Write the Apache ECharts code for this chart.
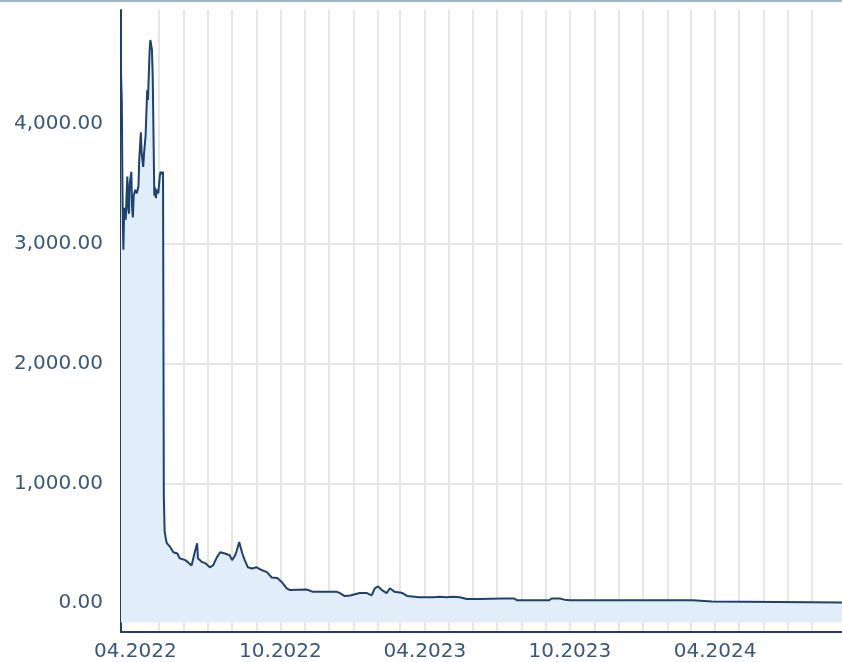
<!DOCTYPE html>
<html>
<head>
<meta charset="utf-8">
<script src="https://cdn.jsdelivr.net/npm/echarts@6/dist/echarts.min.js"></script>
<style>
  html, body { margin: 0; padding: 0; background: #ffffff; }
  #wrap { width: 842px; height: 662px; position: relative; }
  #topline { position: absolute; left: 0; top: 0; width: 842px; height: 2px; background: #9fb4c8; }
  #chart { width: 842px; height: 662px; }
</style>
</head>
<body>
<div id="wrap">
  <div id="chart"></div>
  <div id="topline"></div>
</div>
<script>
// ---- data ----
const dates = [
  '2022-03-14','2022-03-15','2022-03-16','2022-03-17','2022-03-18','2022-03-20','2022-03-21','2022-03-22',
  '2022-03-23','2022-03-24','2022-03-25','2022-03-27','2022-03-28','2022-03-29','2022-03-30','2022-04-01',
  '2022-04-03','2022-04-05','2022-04-06','2022-04-08','2022-04-09','2022-04-11','2022-04-12','2022-04-14',
  '2022-04-16','2022-04-17','2022-04-19','2022-04-20','2022-04-21','2022-04-22','2022-04-23','2022-04-25',
  '2022-04-26','2022-04-27','2022-04-28','2022-04-30','2022-05-02','2022-05-03','2022-05-05','2022-05-06',
  '2022-05-07','2022-05-08','2022-05-10','2022-05-11','2022-05-15','2022-05-19','2022-05-24','2022-05-27',
  '2022-06-03','2022-06-06','2022-06-11','2022-06-15','2022-06-18','2022-06-19','2022-06-24','2022-06-28',
  '2022-07-04','2022-07-08','2022-07-13','2022-07-17','2022-07-23','2022-07-29','2022-08-01','2022-08-05',
  '2022-08-07','2022-08-10','2022-08-14','2022-08-17','2022-08-21','2022-08-26','2022-09-01','2022-09-08',
  '2022-09-14','2022-09-20','2022-09-27','2022-10-03','2022-10-09','2022-10-13','2022-11-03','2022-11-11',
  '2022-11-20','2022-12-11','2022-12-15','2022-12-21','2022-12-28','2023-01-03','2023-01-09','2023-01-18',
  '2023-01-24','2023-01-28','2023-02-01','2023-02-06','2023-02-12','2023-02-16','2023-02-22','2023-03-04',
  '2023-03-10','2023-03-25','2023-04-11','2023-04-20','2023-04-29','2023-05-06','2023-05-15','2023-05-24',
  '2023-06-09','2023-07-08','2023-07-10','2023-07-14','2023-07-23','2023-07-26','2023-09-05','2023-09-08',
  '2023-09-18','2023-09-24','2023-10-01','2024-03-04','2024-03-06','2024-03-28','2024-03-30','2024-09-08'
];
const prices = [
  4420,4200,3350,2950,3300,3200,3400,3560,
  3300,3250,3500,3600,3300,3220,3400,3450,
  3420,3480,3700,3930,3760,3640,3750,3900,
  4280,4200,4600,4700,4700,4620,4400,3400,
  3470,3380,3450,3420,3570,3600,3580,3600,
  900,600,520,500,470,425,415,375,
  360,345,315,425,500,375,345,335,
  300,315,385,425,415,400,360,400,
  440,510,415,360,300,290,300,275,
  260,215,210,175,125,110,115,95,
  95,95,85,60,65,75,85,85,
  65,125,140,110,85,125,95,85,
  60,50,50,55,50,55,50,35,
  35,40,25,40,40,25,25,40,
  40,30,25,25,10,14,10,6
];
const monthTicks = [
  '2022-04-01','2022-05-01','2022-06-01','2022-07-01','2022-08-01','2022-09-01','2022-10-01','2022-11-01',
  '2022-12-01','2023-01-01','2023-02-01','2023-03-01','2023-04-01','2023-05-01','2023-06-01','2023-07-01',
  '2023-08-01','2023-09-01','2023-10-01','2023-11-01','2023-12-01','2024-01-01','2024-02-01','2024-03-01',
  '2024-04-01','2024-05-01','2024-06-01','2024-07-01','2024-08-01','2024-09-01'
];
const xLabelTicks = ['2022-04-01','2022-10-01','2023-04-01','2023-10-01','2024-04-01'];
const yTicks = [0, 1000, 2000, 3000, 4000];

function ts(s) { const p = s.split('-'); return Date.UTC(+p[0], +p[1] - 1, +p[2]); }

const seriesData = dates.map((d, i) => [ts(d), prices[i]]);

const chart = echarts.init(document.getElementById('chart'), null, { renderer: 'canvas' });
const textColor = '#38577f';
const gridColor = '#e6e6e6';
const axisColor = '#1f3e69';

chart.setOption({
  animation: false,
  grid: { left: 121, right: 0, top: 10, bottom: 30, containLabel: false },
  xAxis: {
    type: 'value',
    min: ts('2022-03-14'),
    max: ts('2024-09-08'),
    axisLine: { show: true, onZero: false, lineStyle: { color: axisColor, width: 2 } },
    axisTick: { show: false, customValues: monthTicks.map(ts) },
    axisLabel: {
      customValues: xLabelTicks.map(ts),
      color: textColor,
      fontFamily: 'DejaVu Sans',
      fontSize: 20,
      margin: 10,
      hideOverlap: false,
      formatter: function (v) {
        const d = new Date(v);
        const m = d.getUTCMonth() + 1;
        return (m < 10 ? '0' + m : '' + m) + '.' + d.getUTCFullYear();
      }
    },
    splitLine: { show: true, showMinLine: false, showMaxLine: false, lineStyle: { color: gridColor, width: 2 } }
  },
  yAxis: {
    type: 'value',
    min: -240,
    max: 4950,
    axisLine: { show: true, onZero: false, lineStyle: { color: axisColor, width: 2 } },
    axisTick: { show: false, customValues: yTicks },
    axisLabel: {
      customValues: yTicks,
      color: textColor,
      fontFamily: 'DejaVu Sans',
      fontSize: 20,
      margin: 18,
      formatter: function (v) {
        return v.toLocaleString('en-US', { minimumFractionDigits: 2, maximumFractionDigits: 2 });
      }
    },
    splitLine: { show: true, showMinLine: false, showMaxLine: false, lineStyle: { color: gridColor, width: 2 } }
  },
  series: [{
    type: 'line',
    data: seriesData,
    showSymbol: false,
    symbol: 'none',
    lineStyle: { color: '#1c4270', width: 2 },
    areaStyle: { color: '#e1edf8', opacity: 1, origin: -160 },
    z: 3
  }]
});
</script>
</body>
</html>
